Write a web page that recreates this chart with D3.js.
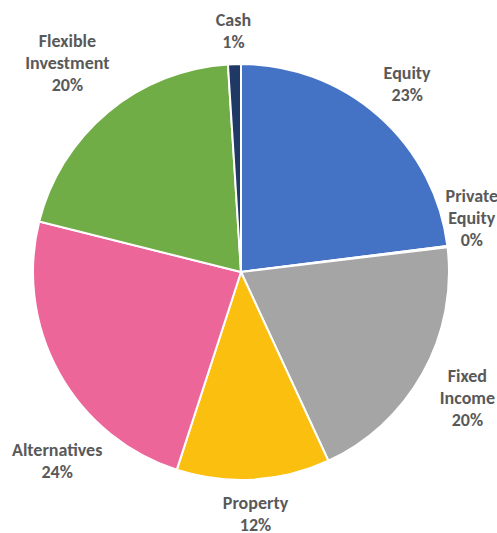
<!DOCTYPE html>
<html>
<head>
<meta charset="utf-8">
<script src="https://cdn.jsdelivr.net/npm/d3@7"></script>
<style>
  html, body { margin: 0; padding: 0; background: #fff; }
  svg { display: block; }
</style>
</head>
<body>
<script>
// slice data, clockwise from 12 o'clock
var categories = ['Equity', 'Private Equity', 'Fixed Income', 'Property', 'Alternatives', 'Flexible Investment', 'Cash'];
var values = [23.0, 0.1, 20.0, 11.9, 23.9, 20.1, 1.0];
var labelLines = [['Equity'], ['Private', 'Equity'], ['Fixed', 'Income'], ['Property'], ['Alternatives'], ['Flexible', 'Investment'], ['Cash']];
var colors = ['#4472C4', '#ED7D31', '#A5A5A5', '#FBBF10', '#EC6699', '#70AD47', '#203864'];

var w = 497;
var h = 533;
var cx = 241;
var cy = 272;
var radius = 208;
var lineH = 22;

var data = categories.map(function(c, i){
	return {'name': c, 'value': values[i], 'lines': labelLines[i], 'color': colors[i]};
});
var total = d3.sum(values);

var svg = d3.select('body')
			.append('svg')
			.attr('width', w)
			.attr('height', h);

var pie = d3.pie()
			.sort(null)
			.value(function(d){ return d.value; });

var arc = d3.arc()
			.innerRadius(0)
			.outerRadius(radius);

var g = svg.append('g')
		   .attr('transform', 'translate(' + cx + ',' + cy + ')');

var arcs = pie(data);

g.selectAll('path')
 .data(arcs)
 .enter()
 .append('path')
 .attr('d', arc)
 .attr('fill', function(d){ return d.data.color; })
 .attr('stroke', '#fff')
 .attr('stroke-width', 2)
 .attr('stroke-linejoin', 'round');

// labels, placed outside the edge like excel does
var labels = g.selectAll('text.lbl')
			  .data(arcs)
			  .enter()
			  .append('text')
			  .attr('class', 'lbl')
			  .attr('text-anchor', 'middle')
			  .attr('font-family', 'Carlito, Liberation Sans, Arial, sans-serif')
			  .attr('font-weight', 'bold')
			  .attr('font-size', '18px')
			  .attr('fill', '#595959');

labels.each(function(d){
	var t = d3.select(this);
	var lines = d.data.lines.concat([Math.round(d.data.value / total * 100) + '%']);
	lines.forEach(function(s, i){
		t.append('tspan')
		 .attr('x', 0)
		 .attr('dy', i == 0 ? 0 : lineH)
		 .text(s);
	});
	var bw = this.getBBox().width;
	var bh = lines.length * lineH;
	var a = (d.startAngle + d.endAngle) / 2;
	var s = Math.sin(a), c = Math.cos(a);
	var dist = radius + 11 + Math.abs(s) * bw / 2 + Math.abs(c) * bh / 2;
	var x = dist * s;
	var y = -dist * c;
	// keep inside the page, shift away from the middle line when pushed
	var minX = -cx + 12 + bw / 2;
	var maxX = w - cx - bw / 2 + 1;
	var shift = 0;
	if(x < minX){ shift = minX - x; x = minX; }
	if(x > maxX){ shift = x - maxX; x = maxX; }
	if(shift > 0){
		y += (y < 0 ? -1 : 1) * (shift + 7);
	}
	// keep the bottom lines on the page
	y = Math.min(y, h - cy - bh / 2 + 4);
	// first baseline so the block of lines is centred on y
	var top = y - (lines.length - 1) * lineH / 2 + 6;
	t.attr('transform', 'translate(' + x + ',' + top + ')');
});
</script>
</body>
</html>
